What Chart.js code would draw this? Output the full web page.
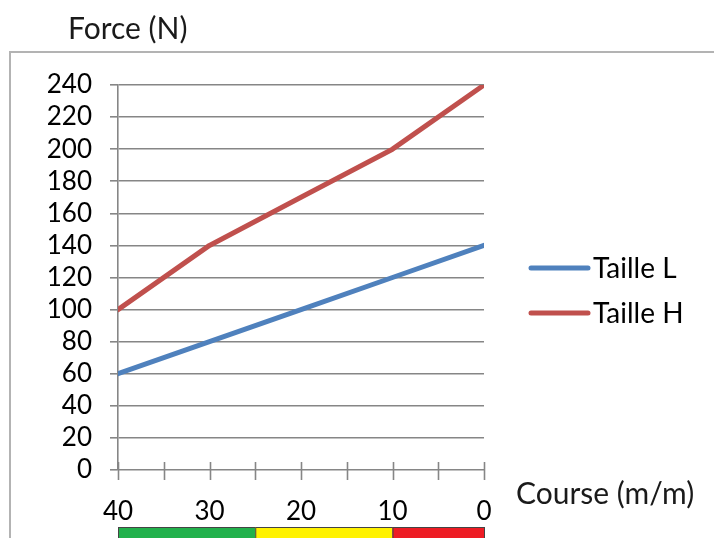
<!DOCTYPE html>
<html><head><meta charset="utf-8">
<script src="https://cdn.jsdelivr.net/npm/chart.js@4/dist/chart.umd.min.js"></script>
<style>html,body{margin:0;padding:0;background:#fff}#wrap{width:714px;height:538px;position:relative}</style>
</head><body><div id="wrap"><canvas id="c" width="714" height="538"></canvas></div>
<script>
const courses = [40, 30, 20, 10, 0];
const tailleL = [60, 80, 100, 120, 140];
const tailleH = [100, 140, 170, 200, 240];
const seriesNames = ['Taille L', 'Taille H'];
const yTitle = 'Force (N)';
const xTitle = 'Course (m/m)';
const zoneEdges = [40, 25, 10, 0];
const zoneColors = ['#22B14C', '#FFF200', '#ED1C24'];

const FONT = 'Lato';
const pts = arr => courses.map((c, i) => ({x: c, y: arr[i]}));

const decor = {
  id: 'decor',
  beforeDraw(chart) {
    const ctx = chart.ctx;
    ctx.save();
    ctx.strokeStyle = '#b3b3b3';
    ctx.lineWidth = 2;
    ctx.strokeRect(10, 52, 760, 600);
    ctx.restore();
  },
  afterDraw(chart) {
    const ctx = chart.ctx, xs = chart.scales.x, ca = chart.chartArea;
    ctx.save();
    ctx.strokeStyle = '#868686';
    ctx.lineWidth = 1.6;
    for (let v = 0; v <= 40; v += 5) {
      const px = Math.round(xs.getPixelForValue(v)) + 0.5;
      ctx.beginPath(); ctx.moveTo(px, ca.bottom - 8); ctx.lineTo(px, ca.bottom + 10); ctx.stroke();
    }
    ctx.fillStyle = '#1a1a1a';
    ctx.font = '30px ' + FONT;
    ctx.textBaseline = 'middle';
    ctx.textAlign = 'left';
    ctx.fillText(yTitle, 68, 29);
    ctx.fillText(xTitle, 516, 494);
    ctx.font = '28px ' + FONT;
    chart.data.datasets.forEach((ds, i) => {
      const y = 268 + i * 45;
      ctx.strokeStyle = ds.borderColor; ctx.lineWidth = 5; ctx.lineCap = 'round';
      ctx.beginPath(); ctx.moveTo(531, y); ctx.lineTo(588, y); ctx.stroke();
      ctx.fillStyle = '#000';
      ctx.fillText(ds.label, 593, y + 1);
    });
    for (let i = 0; i < zoneColors.length; i++) {
      const a = xs.getPixelForValue(zoneEdges[i]);
      const b = xs.getPixelForValue(zoneEdges[i + 1]);
      ctx.fillStyle = zoneColors[i];
      ctx.fillRect(a, 527, b - a, 20);
      ctx.strokeStyle = '#444'; ctx.lineWidth = 1;
      ctx.strokeRect(a + 0.5, 527.5, b - a, 20);
    }
    ctx.restore();
  }
};

new Chart(document.getElementById('c'), {
  type: 'line',
  data: {
    datasets: [
      {label: seriesNames[0], data: pts(tailleL), borderColor: '#4F81BD', backgroundColor: '#4F81BD', borderWidth: 5, pointRadius: 0, tension: 0, borderCapStyle: 'round', borderJoinStyle: 'round'},
      {label: seriesNames[1], data: pts(tailleH), borderColor: '#C0504D', backgroundColor: '#C0504D', borderWidth: 5, pointRadius: 0, tension: 0, borderCapStyle: 'round', borderJoinStyle: 'round'}
    ]
  },
  options: {
    responsive: false,
    animation: false,
    layout: {padding: {left: 0, top: 85, right: 230, bottom: 0}},
    plugins: {legend: {display: false}, tooltip: {enabled: false}},
    scales: {
      x: {
        type: 'linear', reverse: true, min: 0, max: 40,
        grid: {display: false},
        border: {display: false},
        ticks: {stepSize: 10, autoSkip: false, maxRotation: 0, padding: 18, color: '#000', font: {family: FONT, size: 26}},
        afterFit(s) { s.height = 68; }
      },
      y: {
        min: 0, max: 240,
        grid: {color: '#868686', lineWidth: 1.6, tickLength: 8, drawTicks: true},
        border: {display: true, color: '#868686', width: 1.6},
        ticks: {stepSize: 20, autoSkip: false, padding: 18, color: '#000', font: {family: FONT, size: 26}},
        afterFit(s) { s.width = 118; }
      }
    }
  },
  plugins: [decor]
});
</script></body></html>
